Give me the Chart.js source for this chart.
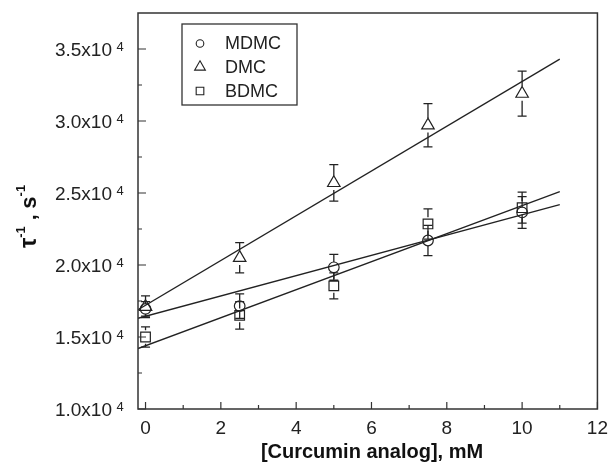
<!DOCTYPE html>
<html>
<head>
<meta charset="utf-8">
<script src="https://cdn.jsdelivr.net/npm/chart.js@4"></script>
<style>
  html, body { margin: 0; padding: 0; background: #fff; }
  #wrap { width: 616px; height: 465px; }
</style>
</head>
<body>
<div id="wrap"><canvas id="chart" width="616" height="465"></canvas></div>
<script>
// valeurs
const conc = [0, 2.5, 5, 7.5, 10];
const mdmc = [16950, 17150, 19840, 21700, 23650];
const mdmcErr = [500, 850, 900, 1050, 1100];
const dmc = [17100, 20500, 25700, 29700, 31900];
const dmcErr = [750, 1050, 1270, 1500, 1560];
const bdmc = [15000, 16500, 18550, 22850, 23980];
const bdmcErr = [700, 950, 900, 1050, 1075];

// droites de regression (extremites lues)
const fitX = [-0.2, 11];
const mdmcFit = [16300, 24200];
const dmcFit = [16900, 34300];
const bdmcFit = [14200, 25100];

const xTicks = [0, 2, 4, 6, 8, 10, 12];
const xMinor = [1, 3, 5, 7, 9, 11];
const yTicks = [10000, 15000, 20000, 25000, 30000, 35000];
const yMinor = [12500, 17500, 22500, 27500, 32500];
const seriesNames = ['MDMC', 'DMC', 'BDMC'];

const ink = '#222';
const font = '"Liberation Sans", Arial, sans-serif';

function pts(xs, ys) {
    return xs.map((x, i) => ({ x: x, y: ys[i] }));
}

function fitLine(ys) {
    return {
        type: 'line',
        data: pts(fitX, ys),
        borderColor: ink,
        borderWidth: 1.3,
        pointRadius: 0,
        fill: false
    };
}

function markers(label, ys, errs, style, r) {
    return {
        type: 'scatter',
        label: label,
        data: pts(conc, ys),
        errors: errs,
        pointStyle: style,
        pointRadius: r,
        pointHoverRadius: r,
        pointBorderColor: ink,
        pointBackgroundColor: 'rgba(0,0,0,0)',
        pointBorderWidth: 1.2,
        showLine: false
    };
}

const decor = {
    id: 'decor',
    afterDatasetsDraw(chart) {
        const c = chart.ctx;
        const xs = chart.scales.x, ys = chart.scales.y;
        const area = chart.chartArea;
        c.save();
        c.strokeStyle = ink;
        c.lineWidth = 1.3;
        // barres d'erreur
        chart.data.datasets.forEach(ds => {
            if (!ds.errors) return;
            ds.data.forEach((p, i) => {
                const px = xs.getPixelForValue(p.x);
                const py = ys.getPixelForValue(p.y);
                const top = ys.getPixelForValue(p.y + ds.errors[i]);
                const bot = ys.getPixelForValue(p.y - ds.errors[i]);
                const gap = ds.pointRadius;
                c.beginPath();
                if (py - gap > top) { c.moveTo(px, py - gap); c.lineTo(px, top); }
                if (py + gap < bot) { c.moveTo(px, py + gap); c.lineTo(px, bot); }
                c.moveTo(px - 4.5, top); c.lineTo(px + 4.5, top);
                c.moveTo(px - 4.5, bot); c.lineTo(px + 4.5, bot);
                c.stroke();
            });
        });
        // cadre
        c.strokeStyle = '#333';
        c.lineWidth = 1.5;
        c.strokeRect(area.left, area.top, area.right - area.left, area.bottom - area.top);
        // graduations vers l'interieur
        c.lineWidth = 1.2;
        c.beginPath();
        xTicks.forEach(v => { const px = xs.getPixelForValue(v); c.moveTo(px, area.bottom); c.lineTo(px, area.bottom - 7); });
        xMinor.forEach(v => { const px = xs.getPixelForValue(v); c.moveTo(px, area.bottom); c.lineTo(px, area.bottom - 4); });
        yTicks.forEach(v => { const py = ys.getPixelForValue(v); c.moveTo(area.left, py); c.lineTo(area.left + 8, py); });
        yMinor.forEach(v => { const py = ys.getPixelForValue(v); c.moveTo(area.left, py); c.lineTo(area.left + 4, py); });
        c.stroke();
        c.restore();
    },
    afterDraw(chart) {
        const c = chart.ctx;
        const ys = chart.scales.y;
        c.save();
        // etiquettes de l'axe y avec exposant
        c.fillStyle = ink;
        yTicks.forEach(v => {
            const py = ys.getPixelForValue(v);
            c.font = '19px ' + font;
            c.textAlign = 'right';
            c.textBaseline = 'alphabetic';
            c.fillText((v / 10000).toFixed(1) + 'x10', 112, py + 6.8);
            c.font = '13px ' + font;
            c.textAlign = 'left';
            c.fillText('4', 116.5, py + 2.3);
        });
        // titre axe x
        c.fillStyle = '#111';
        c.font = 'bold 20px ' + font;
        c.textAlign = 'center';
        c.fillText('[Curcumin analog], mM', 372, 458);
        // titre axe y
        c.translate(36, 248);
        c.rotate(-Math.PI / 2);
        c.textAlign = 'left';
        let x = 0;
        const part = (t, f, dy) => {
            c.font = f;
            c.fillText(t, x, dy);
            x += c.measureText(t).width;
        };
        part('\u03C4', 'bold 23px ' + font, 0);
        part('-1', 'bold 13px ' + font, -11);
        part(' , ', 'bold 21px ' + font, 0);
        part('s', 'bold 22px ' + font, 0);
        part('-1', 'bold 13px ' + font, -11);
        c.restore();

        // legende
        c.save();
        c.strokeStyle = '#333';
        c.lineWidth = 1.3;
        c.strokeRect(182, 24, 115, 81);
        const rows = [43.5, 67, 91];
        const styles = [['circle', 3.8], ['triangle', 6.2], ['rect', 5.4]];
        const scatterSets = chart.data.datasets.filter(d => d.errors);
        scatterSets.forEach((ds, i) => {
            c.strokeStyle = ink;
            c.fillStyle = 'rgba(0,0,0,0)';
            c.lineWidth = 1.1;
            Chart.helpers.drawPoint(c, { pointStyle: styles[i][0], radius: styles[i][1], rotation: 0, borderWidth: 1.1 }, 200, rows[i]);
            c.fillStyle = ink;
            c.font = '18px ' + font;
            c.textAlign = 'left';
            c.textBaseline = 'middle';
            c.fillText(ds.label, 225, rows[i] + 1);
        });
        c.restore();
    }
};

new Chart(document.getElementById('chart').getContext('2d'), {
    data: {
        datasets: [
            fitLine(mdmcFit),
            fitLine(dmcFit),
            fitLine(bdmcFit),
            markers(seriesNames[0], mdmc, mdmcErr, 'circle', 5.3),
            markers(seriesNames[1], dmc, dmcErr, 'triangle', 7.2),
            markers(seriesNames[2], bdmc, bdmcErr, 'rect', 6.8)
        ]
    },
    options: {
        responsive: false,
        animation: false,
        layout: { padding: { left: 0, top: 13, right: 10, bottom: 0 } },
        plugins: { legend: { display: false }, tooltip: { enabled: false } },
        scales: {
            x: {
                type: 'linear',
                min: -0.2,
                max: 12,
                afterBuildTicks: s => { s.ticks = xTicks.map(v => ({ value: v })); },
                afterFit: s => { s.height = 56; },
                grid: { display: false, drawTicks: false },
                border: { display: false },
                ticks: {
                    color: ink,
                    padding: 8,
                    font: { family: font, size: 19 },
                    callback: v => String(v)
                }
            },
            y: {
                type: 'linear',
                min: 10000,
                max: 37500,
                afterBuildTicks: s => { s.ticks = yTicks.map(v => ({ value: v })); },
                afterFit: s => { s.width = 138; },
                grid: { display: false, drawTicks: false },
                border: { display: false },
                ticks: { display: false }
            }
        }
    },
    plugins: [decor]
});
</script>
</body>
</html>
